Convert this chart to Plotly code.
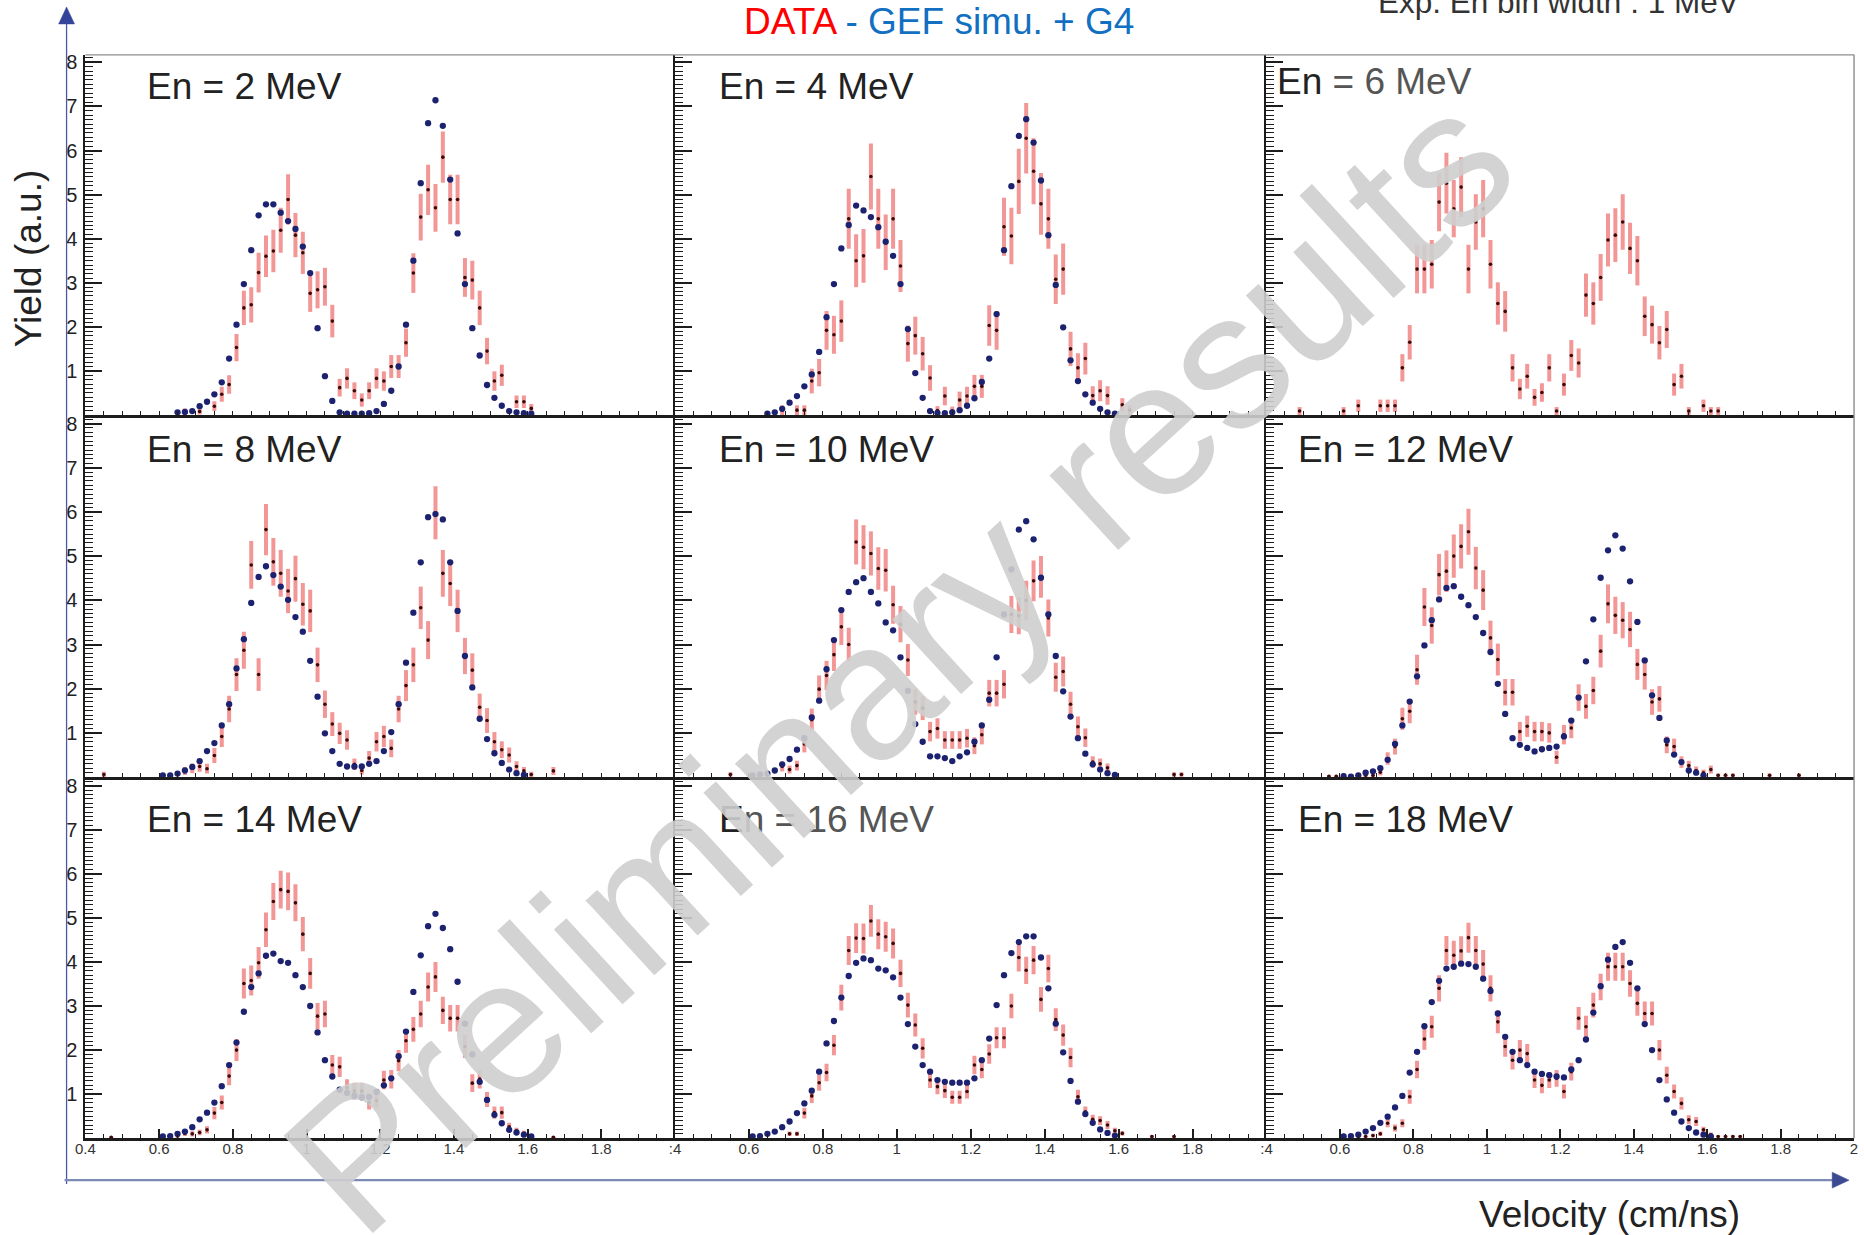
import plotly.graph_objects as go

W, H = 1864, 1235
BIN = 0.02          # velocity bin width (cm/ns)
Y_MAX = 8.17
N = None

# ---------------- En = 2 MeV ----------------
data_2mev_start = 0.67
data_2mev = [0.08, N, 0.08, N, 0.20, 0.47, 0.69, 1.53, 2.43, 2.50, 3.23, 3.60, 3.72, 4.19, 4.89, 4.08,
             3.68, 2.76, 2.84, 2.91, 2.13, 0.62, 0.83, 0.55, 0.34, 0.55, 0.83, 0.77, 1.10, 1.10, 1.64,
             3.22, 4.49, 5.11, 4.70, 5.85, 4.89, 4.89, 3.12, 3.06, 2.43, 1.45, 0.77, 0.90, N, 0.30, 0.30, 0.15]
err_2mev = [0.07, N, 0.07, N, 0.11, 0.17, 0.21, 0.31, 0.39, 0.40, 0.45, 0.47, 0.48, 0.51, 0.57, 0.50,
            0.48, 0.42, 0.42, 0.43, 0.37, 0.20, 0.23, 0.19, 0.15, 0.19, 0.23, 0.22, 0.26, 0.26, 0.32,
            0.45, 0.53, 0.57, 0.54, 0.58, 0.56, 0.56, 0.44, 0.44, 0.39, 0.30, 0.22, 0.24, N, 0.14, 0.14, 0.10]
gef_2mev_start = 0.65
gef_2mev = [0.06, 0.07, 0.09, 0.20, 0.30, 0.47, 0.74, 1.28, 2.05, 2.97, 3.74, 4.53, 4.78, 4.78, 4.59, 4.40,
            4.22, 3.82, 3.22, 1.97, 0.88, 0.32, 0.06, 0.03, 0.03, 0.03, 0.04, 0.09, 0.25, 0.55, 1.10, 2.05,
            3.50, 5.26, 6.62, 7.14, 6.56, 5.34, 4.12, 2.97, 1.97, 1.35, 0.68, 0.39, 0.21, 0.09, 0.06, 0.04, 0.03]

# ---------------- En = 4 MeV ----------------
data_4mev_start = 0.69
data_4mev = [0.11, N, 0.11, 0.11, 0.77, 0.96, 1.92, 1.82, 2.13, 4.45, 3.50, 3.61, 5.41, 4.45, 3.92, 4.45,
             3.38, 1.62, 1.80, 1.39, 0.84, 0.10, 0.43, 0.09, 0.34, 0.43, 0.65, 0.65, 2.03, 1.92, 4.27, 4.06,
             5.30, 6.28, 5.53, 4.79, 4.45, 3.08, 3.31, 1.50, 1.07, 1.28, 0.44, 0.55, 0.44, N, 0.23, 0.11]
err_4mev = [0.11, N, 0.11, 0.11, 0.28, 0.31, 0.44, 0.43, 0.47, 0.68, 0.60, 0.61, 0.75, 0.68, 0.63, 0.68,
            0.59, 0.41, 0.43, 0.38, 0.29, 0.10, 0.21, 0.10, 0.19, 0.21, 0.26, 0.26, 0.46, 0.44, 0.66, 0.64,
            0.74, 0.80, 0.75, 0.70, 0.68, 0.56, 0.58, 0.39, 0.33, 0.36, 0.21, 0.24, 0.21, N, 0.15, 0.11]
gef_4mev_start = 0.65
gef_4mev = [0.03, 0.06, 0.14, 0.28, 0.43, 0.65, 0.92, 1.43, 2.22, 2.97, 3.78, 4.31, 4.75, 4.64, 4.49, 4.26,
            3.93, 3.61, 2.97, 1.95, 0.95, 0.39, 0.09, 0.05, 0.04, 0.06, 0.11, 0.21, 0.38, 0.75, 1.28, 2.29,
            3.74, 5.19, 6.33, 6.71, 6.18, 5.32, 4.08, 2.95, 1.99, 1.24, 0.77, 0.47, 0.28, 0.14, 0.06, 0.03]

# ---------------- En = 6 MeV (data only) ----------------
data_6mev_start = 0.49
data_6mev = [0.09, N, N, N, N, N, 0.09, N, 0.21, N, N, 0.21, 0.21, 0.21, 1.07, 1.65, 3.31, 3.31, 3.42, 4.83,
             5.26, 4.68, 5.17, 3.31, 4.38, 4.68, 3.42, 2.53, 2.35, 1.07, 0.59, 0.88, 0.40, 0.51, 1.07, 0.09,
             0.69, 1.35, 1.18, 2.72, 2.53, 3.12, 3.97, 4.08, 4.38, 3.78, 3.50, 2.24, 2.05, 1.64, 1.94, 0.69,
             0.88, 0.09, N, 0.21, 0.09, 0.09]
err_6mev = [0.09, N, N, N, N, N, 0.09, N, 0.14, N, N, 0.14, 0.14, 0.14, 0.31, 0.39, 0.55, 0.55, 0.55, 0.66,
            0.69, 0.65, 0.68, 0.55, 0.63, 0.65, 0.55, 0.48, 0.46, 0.31, 0.23, 0.28, 0.19, 0.21, 0.31, 0.09,
            0.25, 0.35, 0.33, 0.49, 0.48, 0.53, 0.60, 0.61, 0.63, 0.58, 0.56, 0.45, 0.43, 0.38, 0.42, 0.25,
            0.28, 0.09, N, 0.14, 0.09, 0.09]

# ---------------- En = 8 MeV ----------------
data_8mev_start = 0.45
data_8mev = [0.06, N, N, N, N, N, N, N, N, N, N, 0.14, 0.20, 0.24, 0.19, 0.49, 0.92, 1.54, 2.32, 2.87, 4.80,
             2.32, 5.60, 4.87, 4.61, 4.21, 4.49, 3.91, 3.76, 2.54, 1.65, 1.20, 0.99, 0.84, 0.29, 0.15, 0.43,
             0.80, 0.92, 0.65, 1.54, 2.07, 2.54, 3.83, 3.10, 5.98, 4.61, 4.38, 3.76, 2.74, 2.42, 1.58, 1.28,
             0.80, 0.62, 0.50, 0.24, 0.14, 0.06, N, N, 0.14]
err_8mev = [0.06, N, N, N, N, N, N, N, N, N, N, 0.09, 0.11, 0.12, 0.11, 0.17, 0.24, 0.30, 0.37, 0.42, 0.54,
            0.37, 0.58, 0.54, 0.53, 0.50, 0.52, 0.48, 0.48, 0.39, 0.31, 0.27, 0.24, 0.22, 0.13, 0.09, 0.16,
            0.22, 0.24, 0.20, 0.30, 0.35, 0.39, 0.48, 0.43, 0.60, 0.53, 0.51, 0.48, 0.41, 0.38, 0.31, 0.28,
            0.22, 0.19, 0.17, 0.12, 0.09, 0.06, N, N, 0.09]
gef_8mev_start = 0.61
gef_8mev = [0.04, 0.04, 0.08, 0.15, 0.23, 0.36, 0.59, 0.77, 1.17, 1.65, 2.46, 3.12, 3.94, 4.53, 4.77, 4.57,
            4.31, 4.01, 3.62, 3.29, 2.63, 1.82, 0.99, 0.59, 0.30, 0.24, 0.24, 0.24, 0.30, 0.36, 0.59, 1.02,
            1.65, 2.59, 3.72, 4.86, 5.88, 5.95, 5.83, 4.86, 3.76, 2.74, 2.03, 1.32, 0.86, 0.54, 0.32, 0.17,
            0.09, 0.05]

# ---------------- En = 10 MeV ----------------
data_10mev_start = 0.55
data_10mev = [0.06, N, N, 0.06, N, N, N, 0.24, 0.17, 0.26, 0.75, 1.30, 1.99, 2.30, 2.77, 3.40, 3.00, 5.32,
              5.20, 5.06, 4.72, 4.68, 3.90, 3.46, 2.65, 1.70, 1.56, 1.03, 1.10, 0.84, 0.84, 0.84, 0.88, 0.71,
              0.96, 1.90, 1.90, 2.10, 3.68, 3.65, 4.00, 4.44, 4.53, 3.60, 2.26, 2.39, 1.65, 1.14, 0.89, 0.34,
              0.30, 0.21, N, N, N, N, N, N, N, N, 0.06, 0.06]
err_10mev = [0.05, N, N, 0.05, N, N, N, 0.11, 0.09, 0.11, 0.19, 0.25, 0.31, 0.33, 0.37, 0.41, 0.38, 0.51,
             0.50, 0.50, 0.48, 0.48, 0.43, 0.41, 0.36, 0.29, 0.27, 0.22, 0.23, 0.20, 0.20, 0.20, 0.21, 0.19,
             0.22, 0.30, 0.30, 0.32, 0.42, 0.42, 0.44, 0.46, 0.47, 0.42, 0.33, 0.34, 0.28, 0.23, 0.21, 0.13,
             0.12, 0.10, N, N, N, N, N, N, N, N, 0.05, 0.05]
gef_10mev_start = 0.61
gef_10mev = [0.04, 0.06, 0.08, 0.15, 0.29, 0.41, 0.62, 0.88, 1.35, 1.73, 2.44, 3.10, 3.78, 4.19, 4.41, 4.50,
             4.19, 3.93, 3.50, 3.32, 2.71, 1.95, 1.20, 0.80, 0.47, 0.47, 0.43, 0.36, 0.47, 0.56, 0.80, 1.17,
             1.75, 2.71, 3.68, 4.70, 5.60, 5.79, 5.38, 4.51, 3.68, 2.74, 1.94, 1.37, 0.88, 0.53, 0.29, 0.17,
             0.09, 0.05]

# ---------------- En = 12 MeV ----------------
data_12mev_start = 0.57
data_12mev = [0.02, 0.02, 0.04, N, N, 0.04, 0.04, 0.11, 0.42, 0.69, 1.32, 1.49, 2.43, 3.85, 3.43, 4.58, 4.66,
              5.00, 5.22, 5.55, 4.73, 4.23, 3.15, 2.66, 1.92, 1.92, 1.03, 1.15, 1.03, 1.03, 1.00, 0.45, 0.96,
              1.11, 1.80, 1.60, 1.96, 2.85, 3.92, 3.66, 3.55, 3.34, 2.55, 2.32, 1.70, 1.77, 0.73, 0.69, 0.34,
              0.26, 0.15, 0.10, 0.17, 0.04, 0.04, 0.04, N, N, N, N, 0.04, N, N, N, 0.04]
err_12mev = [0.03, 0.03, 0.04, N, N, 0.04, 0.04, 0.07, 0.14, 0.18, 0.25, 0.27, 0.34, 0.43, 0.41, 0.47, 0.47,
             0.49, 0.50, 0.52, 0.48, 0.45, 0.39, 0.36, 0.30, 0.30, 0.22, 0.24, 0.22, 0.22, 0.22, 0.15, 0.22,
             0.23, 0.30, 0.28, 0.31, 0.37, 0.44, 0.42, 0.41, 0.40, 0.35, 0.34, 0.29, 0.29, 0.19, 0.18, 0.13,
             0.11, 0.09, 0.07, 0.09, 0.04, 0.04, 0.04, N, N, N, N, 0.04, N, N, N, 0.04]
gef_12mev_start = 0.61
gef_12mev = [0.02, 0.01, 0.04, 0.10, 0.13, 0.20, 0.39, 0.75, 1.17, 1.71, 2.28, 2.98, 3.55, 4.02, 4.28, 4.32,
             4.08, 3.89, 3.62, 3.26, 2.83, 2.11, 1.43, 0.88, 0.73, 0.66, 0.58, 0.63, 0.66, 0.69, 0.92, 1.28,
             1.80, 2.62, 3.57, 4.51, 5.13, 5.47, 5.17, 4.43, 3.51, 2.64, 1.85, 1.34, 0.83, 0.51, 0.34, 0.15,
             0.10, 0.04]

# ---------------- En = 14 MeV ----------------
data_14mev_start = 0.47
data_14mev = [0.02, N, N, N, N, N, N, N, N, 0.05, 0.11, 0.10, 0.13, 0.19, 0.57, 0.81, 1.41, 2.00, 3.51, 3.58,
              3.98, 4.73, 5.37, 5.64, 5.60, 5.34, 4.63, 3.74, 2.77, 2.82, 1.66, 1.62, 1.15, 1.07, 1.07, 0.81,
              0.85, 1.32, 1.34, 1.76, 2.21, 2.47, 2.82, 3.43, 3.66, 2.90, 2.72, 2.72, 2.08, 1.25, 1.34, 0.88,
              0.58, 0.58, 0.26, 0.17, 0.11, N, N, N, 0.02]
err_14mev = [0.03, N, N, N, N, N, N, N, N, 0.04, 0.06, 0.06, 0.06, 0.08, 0.14, 0.16, 0.21, 0.25, 0.34, 0.34,
             0.36, 0.39, 0.42, 0.43, 0.43, 0.42, 0.39, 0.35, 0.30, 0.30, 0.23, 0.23, 0.19, 0.19, 0.19, 0.16,
             0.17, 0.21, 0.21, 0.24, 0.27, 0.28, 0.30, 0.33, 0.34, 0.31, 0.30, 0.30, 0.26, 0.20, 0.21, 0.17,
             0.14, 0.14, 0.09, 0.07, 0.06, N, N, N, 0.03]
gef_14mev_start = 0.61
gef_14mev = [0.04, 0.05, 0.10, 0.15, 0.25, 0.43, 0.58, 0.81, 1.18, 1.66, 2.17, 2.87, 3.43, 3.74, 4.14, 4.19,
             4.02, 3.98, 3.70, 3.43, 3.00, 2.40, 1.77, 1.40, 1.10, 1.03, 0.96, 0.93, 0.94, 1.05, 1.20, 1.36,
             1.86, 2.42, 3.32, 4.15, 4.81, 5.09, 4.77, 4.29, 3.55, 2.60, 1.90, 1.28, 0.87, 0.53, 0.34, 0.19,
             0.13, 0.08, 0.04]

# ---------------- En = 16 MeV ----------------
data_16mev_start = 0.71
data_16mev = [0.10, 0.10, 0.57, 0.96, 1.26, 1.49, 2.11, 3.19, 4.26, 4.54, 4.53, 4.93, 4.63, 4.57, 4.42, 3.74,
              3.02, 2.57, 2.04, 1.32, 1.17, 1.08, 0.93, 0.93, 1.06, 1.66, 1.56, 1.91, 2.28, 2.28, 3.00, 4.10,
              3.81, 4.04, 3.15, 3.85, 2.69, 2.34, 1.83, 0.94, 0.60, 0.43, 0.40, 0.30, 0.17, 0.11, N, N, N,
              0.04, N, N, 0.04]
err_16mev = [0.05, 0.05, 0.12, 0.16, 0.18, 0.20, 0.23, 0.29, 0.33, 0.34, 0.34, 0.36, 0.34, 0.34, 0.34, 0.31,
             0.28, 0.26, 0.23, 0.18, 0.17, 0.17, 0.15, 0.15, 0.16, 0.21, 0.20, 0.22, 0.24, 0.24, 0.28, 0.32,
             0.31, 0.32, 0.28, 0.31, 0.26, 0.24, 0.22, 0.16, 0.12, 0.10, 0.10, 0.09, 0.07, 0.05, N, N, N,
             0.03, N, N, 0.03]
gef_16mev_start = 0.61
gef_16mev = [0.04, 0.05, 0.10, 0.15, 0.25, 0.38, 0.57, 0.79, 1.08, 1.51, 2.15, 2.66, 3.19, 3.68, 3.98, 4.08,
             4.04, 3.85, 3.81, 3.65, 3.19, 2.59, 2.08, 1.66, 1.51, 1.32, 1.28, 1.26, 1.26, 1.26, 1.36, 1.77,
             2.26, 3.02, 3.70, 4.20, 4.45, 4.58, 4.58, 4.10, 3.40, 2.60, 1.95, 1.30, 0.83, 0.55, 0.35, 0.20,
             0.12, 0.06]

# ---------------- En = 18 MeV ----------------
data_18mev_start = 0.63
data_18mev = [0.04, 0.04, 0.04, 0.06, 0.10, 0.34, 0.23, 0.34, 0.94, 1.56, 2.25, 2.53, 3.40, 4.26, 4.15, 4.25,
              4.55, 4.26, 3.95, 3.40, 2.64, 2.08, 1.77, 2.00, 1.92, 1.32, 1.20, 1.32, 1.36, 1.06, 1.51, 2.72,
              2.53, 3.02, 3.43, 3.89, 3.89, 3.89, 3.51, 3.06, 2.83, 2.83, 2.00, 1.43, 1.06, 0.79, 0.42, 0.38,
              0.19, 0.08, 0.04, 0.04, 0.04, 0.04]
err_18mev = [0.03, 0.03, 0.03, 0.04, 0.05, 0.09, 0.08, 0.09, 0.16, 0.20, 0.24, 0.25, 0.30, 0.33, 0.33, 0.33,
             0.34, 0.33, 0.32, 0.30, 0.26, 0.23, 0.21, 0.23, 0.22, 0.18, 0.18, 0.18, 0.19, 0.16, 0.20, 0.26,
             0.25, 0.28, 0.30, 0.32, 0.32, 0.32, 0.30, 0.28, 0.27, 0.27, 0.23, 0.19, 0.16, 0.14, 0.10, 0.10,
             0.07, 0.05, 0.03, 0.03, 0.03, 0.03]
gef_18mev_start = 0.61
gef_18mev = [0.04, 0.05, 0.08, 0.15, 0.23, 0.35, 0.49, 0.70, 0.96, 1.49, 1.96, 2.54, 3.09, 3.57, 3.85, 3.89,
             3.96, 3.95, 3.89, 3.62, 3.34, 2.83, 2.30, 1.96, 1.77, 1.66, 1.51, 1.46, 1.43, 1.40, 1.38, 1.56,
             1.77, 2.24, 2.85, 3.45, 4.05, 4.34, 4.45, 3.98, 3.40, 2.59, 2.00, 1.32, 0.88, 0.58, 0.38, 0.23,
             0.13, 0.08, 0.04]

# panel titles (row-major order)
energy_labels = ["En = 2 MeV", "En = 4 MeV",
                 "En <span style='color:#555555'>= 6 MeV</span>",
                 "En = 8 MeV", "En = 10 MeV", "En = 12 MeV",
                 "En = 14 MeV", "E<span style='color:#555555'>n = 16 MeV</span>", "En = 18 MeV"]

x_tick_vals = [0.4, 0.6, 0.8, 1.0, 1.2, 1.4, 1.6, 1.8, 2.0]
x_tick_text_first = ["0.4", "0.6", "0.8", "1", "1.2", "1.4", "1.6", "1.8", ""]
x_tick_text_mid = [":4", "0.6", "0.8", "1", "1.2", "1.4", "1.6", "1.8", ""]
x_tick_text_last = [":4", "0.6", "0.8", "1", "1.2", "1.4", "1.6", "1.8", "2"]
y_tick_vals = [0, 1, 2, 3, 4, 5, 6, 7, 8]
y_tick_text = ["", "1", "2", "3", "4", "5", "6", "7", "8"]

panels = [
    (data_2mev_start, data_2mev, err_2mev, gef_2mev_start, gef_2mev),
    (data_4mev_start, data_4mev, err_4mev, gef_4mev_start, gef_4mev),
    (data_6mev_start, data_6mev, err_6mev, None, None),
    (data_8mev_start, data_8mev, err_8mev, gef_8mev_start, gef_8mev),
    (data_10mev_start, data_10mev, err_10mev, gef_10mev_start, gef_10mev),
    (data_12mev_start, data_12mev, err_12mev, gef_12mev_start, gef_12mev),
    (data_14mev_start, data_14mev, err_14mev, gef_14mev_start, gef_14mev),
    (data_16mev_start, data_16mev, err_16mev, gef_16mev_start, gef_16mev),
    (data_18mev_start, data_18mev, err_18mev, gef_18mev_start, gef_18mev),
]

# label anchor points (left edge, vertical centre) in page pixels
label_pos = [(136, 84), (712, 84), (1275, 79),
             (136, 448), (712, 448), (1296, 448),
             (136, 818), (712, 818), (1296, 818)]

COLS = [(76, 670), (670, 1266), (1266, 1858)]
ROWS = [(52, 413), (414, 776), (777, 1138)]

FONT = "Liberation Sans, Arial, Helvetica, sans-serif"
AXIS_COL = "#1c1c1c"


def px(x):
    return x / W


def py(y):
    return 1 - y / H


def centers(start, n):
    return [round(start + BIN * i, 3) for i in range(n)]


fig = go.Figure()
layout = {}
annotations = []

for k, (d0, dv, de, g0, gv) in enumerate(panels):
    r, c = divmod(k, 3)
    suffix = "" if k == 0 else str(k + 1)
    xref, yref = "x" + suffix, "y" + suffix
    x_lo, x_hi = COLS[c]
    y_top, y_bot = ROWS[r]

    if r == 2:
        ttext = [x_tick_text_first, x_tick_text_mid, x_tick_text_last][c]
    else:
        ttext = [""] * len(x_tick_vals)

    layout["xaxis" + suffix] = dict(
        domain=[px(x_lo), px(x_hi)], range=[0.4, 2.0], anchor=yref,
        showgrid=False, zeroline=False, showline=True, linecolor=AXIS_COL, linewidth=2.6,
        ticks="inside", ticklen=9, tickwidth=1.5, tickcolor=AXIS_COL,
        tickmode="array", tickvals=x_tick_vals, ticktext=ttext,
        showticklabels=(r == 2), ticklabelstandoff=-5,
        tickfont=dict(family=FONT, size=15, color="#333333"),
        minor=dict(ticks="inside", ticklen=4.5, tickwidth=1.2, tickcolor=AXIS_COL,
                   tickmode="array", tickvals=[round(0.4 + 0.05 * i, 2) for i in range(33)]),
        fixedrange=True,
    )
    layout["yaxis" + suffix] = dict(
        domain=[py(y_bot), py(y_top)], range=[0, Y_MAX], anchor=xref,
        showgrid=False, zeroline=False, showline=True, linecolor=AXIS_COL, linewidth=2,
        ticks="inside", ticklen=17, tickwidth=1.5, tickcolor=AXIS_COL,
        tickmode="array", tickvals=y_tick_vals, ticktext=y_tick_text,
        showticklabels=(c == 0), ticklabelstandoff=2,
        tickfont=dict(family=FONT, size=20, color="#222222"),
        minor=dict(ticks="inside", ticklen=8, tickwidth=1.1, tickcolor=AXIS_COL,
                   tickmode="array", tickvals=[i / 10 for i in range(82) if i % 10]),
        fixedrange=True,
    )

    # measured yield with statistical error bars
    fig.add_trace(go.Scatter(
        x=centers(d0, len(dv)), y=dv, xaxis=xref, yaxis=yref, mode="markers",
        marker=dict(symbol="circle", size=3.6, color="#3a0a0a"),
        error_y=dict(type="data", array=de, visible=True, color="rgba(235,95,95,0.66)",
                     thickness=4, width=0),
        showlegend=False, hoverinfo="skip", cliponaxis=False,
    ))
    # GEF + Geant4 simulation
    if gv is not None:
        fig.add_trace(go.Scatter(
            x=centers(g0, len(gv)), y=gv, xaxis=xref, yaxis=yref, mode="markers",
            marker=dict(symbol="circle", size=6.3, color="#1d2270"),
            showlegend=False, hoverinfo="skip", cliponaxis=False,
        ))

    lx, ly = label_pos[k]
    annotations.append(dict(
        text=energy_labels[k], x=px(lx), y=py(ly), xref="paper", yref="paper",
        xanchor="left", yanchor="middle", showarrow=False,
        font=dict(family=FONT, size=37, color="#222222"),
    ))

# header, axis titles and watermark
annotations += [
    dict(text="<span style='color:#ff0000'>DATA</span>"
              "<span style='color:#1170c2'> - GEF simu. + G4</span>",
         x=px(936), y=py(19), xref="paper", yref="paper", xanchor="center", yanchor="middle",
         showarrow=False, font=dict(family=FONT, size=37)),
    dict(text="Exp. En bin width : 1 MeV", x=px(1560), y=py(-1), xref="paper", yref="paper",
         xanchor="center", yanchor="middle", showarrow=False,
         font=dict(family=FONT, size=31.5, color="#333333")),
    dict(text="Yield (a.u.)", x=px(19), y=py(256), xref="paper", yref="paper",
         xanchor="center", yanchor="middle", textangle=-90, showarrow=False,
         font=dict(family=FONT, size=37, color="#222222")),
    dict(text="Velocity (cm/ns)", x=px(1612), y=py(1214), xref="paper", yref="paper",
         xanchor="center", yanchor="middle", showarrow=False,
         font=dict(family=FONT, size=37, color="#222222")),
    dict(text="Preliminary results", x=px(895), y=py(660), xref="paper", yref="paper",
         xanchor="center", yanchor="middle", textangle=-42.5, showarrow=False,
         font=dict(family=FONT, size=192, color="rgba(206,206,206,0.9)")),
]


def seg(x0, y0, x1, y1, color, width):
    return dict(type="line", xref="paper", yref="paper",
                x0=px(x0), y0=py(y0), x1=px(x1), y1=py(y1),
                line=dict(color=color, width=width), layer="above")


def tri(points, color):
    path = "M " + " L ".join(f"{px(a):.5f},{py(b):.5f}" for a, b in points) + " Z"
    return dict(type="path", xref="paper", yref="paper", path=path,
                fillcolor=color, line=dict(color=color, width=0.5), layer="above")


shapes = [
    seg(76, 52, 1858, 52, "#8c8c8c", 1.4),        # frame top
    seg(1858, 52, 1858, 1138, "#8c8c8c", 1.4),    # frame right
    seg(57, 1184, 57, 18, "#4a5aa2", 1.3),         # outer yield axis
    tri([(49, 21), (65, 21), (57, 4)], "#34449a"),
    seg(55, 1180, 1838, 1180, "#7c8ab8", 2.2),     # outer velocity axis
    tri([(1836, 1172), (1836, 1188), (1853, 1180)], "#3c4a92"),
]

fig.update_layout(
    width=W, height=H, margin=dict(l=0, r=0, t=0, b=0),
    paper_bgcolor="white", plot_bgcolor="white",
    showlegend=False, annotations=annotations, shapes=shapes,
    **layout,
)

fig.write_html("out.html")
